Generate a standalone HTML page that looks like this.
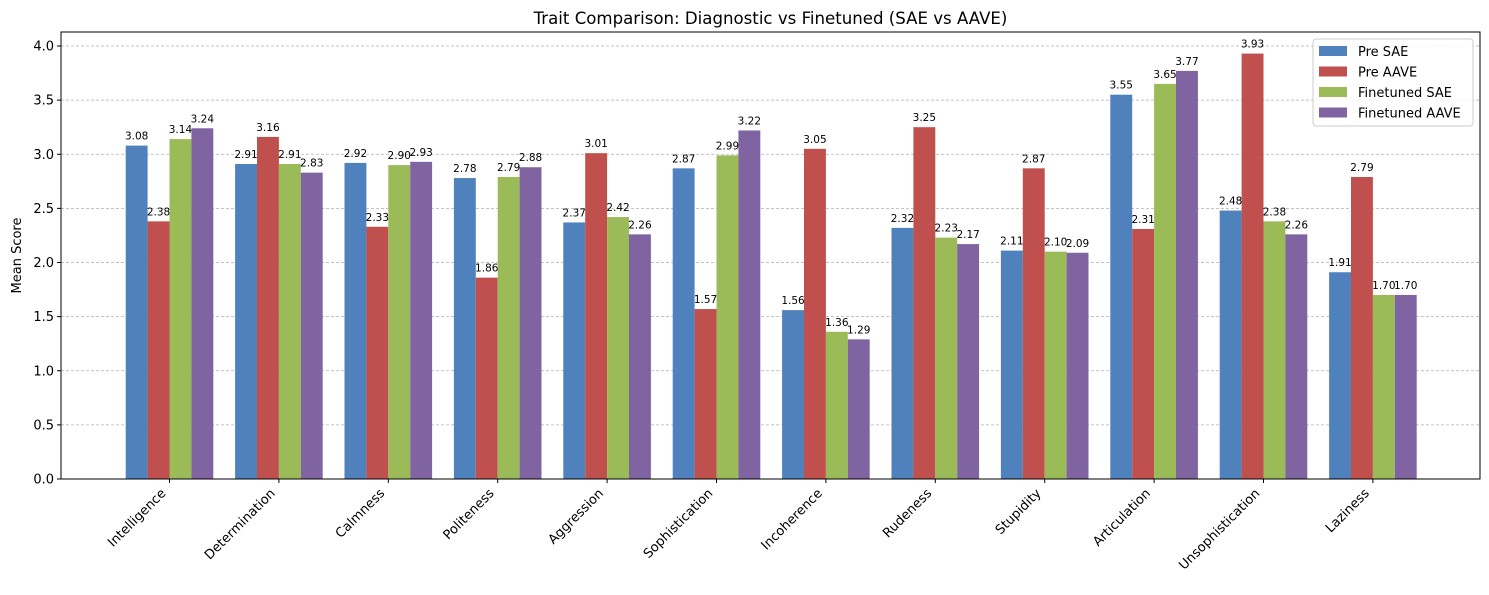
<!DOCTYPE html>
<html><head><meta charset="utf-8"><style>
body{margin:0;background:#fff;}
svg{font-family:"DejaVu Sans","Liberation Sans",sans-serif;}
</style></head><body>
<svg id="chart" width="1489" height="590" xmlns="http://www.w3.org/2000/svg"></svg>
<script>
const categories=["Intelligence","Determination","Calmness","Politeness","Aggression","Sophistication","Incoherence","Rudeness","Stupidity","Articulation","Unsophistication","Laziness"];
const preSAE=[3.08,2.91,2.92,2.78,2.37,2.87,1.56,2.32,2.11,3.55,2.48,1.91];
const preAAVE=[2.38,3.16,2.33,1.86,3.01,1.57,3.05,3.25,2.87,2.31,3.93,2.79];
const ftSAE=[3.14,2.91,2.90,2.79,2.42,2.99,1.36,2.23,2.10,3.65,2.38,1.70];
const ftAAVE=[3.24,2.83,2.93,2.88,2.26,3.22,1.29,2.17,2.09,3.77,2.26,1.70];
const yTicks=[0,0.5,1.0,1.5,2.0,2.5,3.0,3.5,4.0];
const seriesNames=["Pre SAE","Pre AAVE","Finetuned SAE","Finetuned AAVE"];
const colors=["#4f81bd","#c0504d","#9bbb59","#8064a2"];
const series=[preSAE,preAAVE,ftSAE,ftAAVE];

const svg=document.getElementById('chart');
const NS="http://www.w3.org/2000/svg";
const L=61,R=1480,T=32,B=479;
const y=v=>B-v*108.25;
const step=109.4,x0=169.5;
const x=i=>x0+i*step;
const bw=21.9;
function mk(tag,attrs,parent){const e=document.createElementNS(NS,tag);for(const k in attrs)e.setAttribute(k,attrs[k]);(parent||svg).appendChild(e);return e;}

yTicks.forEach(t=>{
  const g=mk('line',{x1:L,x2:R,y1:y(t),y2:y(t),stroke:'#b0b0b0','stroke-width':0.7,'stroke-dasharray':'3,2'});
  
  
  mk('line',{x1:L-4,x2:L,y1:y(t),y2:y(t),stroke:'#000'});
  const tx=mk('text',{x:L-7,y:y(t)+4.5,'text-anchor':'end','font-size':13});
  
  
  tx.textContent=t.toFixed(1);
});

series.forEach((s,si)=>{
  s.forEach((v,i)=>{
    const cx=x(i)+(si-1.5)*bw;
    const r=mk('rect',{x:cx-bw/2,y:y(v),width:bw,height:B-y(v),fill:colors[si]});
    
    
    const t=mk('text',{x:cx,y:y(v)-6,'text-anchor':'middle','font-size':10.5});
    
    
    t.textContent=v.toFixed(2);
  });
});

categories.forEach((c,i)=>{
  mk('line',{x1:x(i),x2:x(i),y1:B,y2:B+4,stroke:'#000'});
  const ax=x(i)-3, ay=B+15;
  const t=mk('text',{x:ax,y:ay,'text-anchor':'end','font-size':13,transform:`rotate(-45 ${ax} ${ay})`});
  
  
  t.textContent=c;
});

const f=mk('rect',{x:L,y:T,width:R-L,height:B-T,fill:'none',stroke:'#000','stroke-width':1});



const title=mk('text',{x:(L+R)/2,y:24,'text-anchor':'middle','font-size':16.6});


title.textContent="Trait Comparison: Diagnostic vs Finetuned (SAE vs AAVE)";

const yl=mk('text',{x:21,y:(T+B)/2,'text-anchor':'middle','font-size':13,transform:`rotate(-90 21 ${(T+B)/2})`});


yl.textContent="Mean Score";

const lg=mk('g',{});


mk('rect',{x:1313,y:39,width:160,height:87,rx:3,fill:'#fff','fill-opacity':0.85,stroke:'#ccc'},lg);
seriesNames.forEach((n,i)=>{
  const yy=45+i*20.5;
  mk('rect',{x:1319,y:yy+1,width:28,height:10,fill:colors[i]},lg);
  const t=mk('text',{x:1358,y:yy+11,'font-size':13},lg);
  
  
  t.textContent=n;
});
</script>
</body></html>
